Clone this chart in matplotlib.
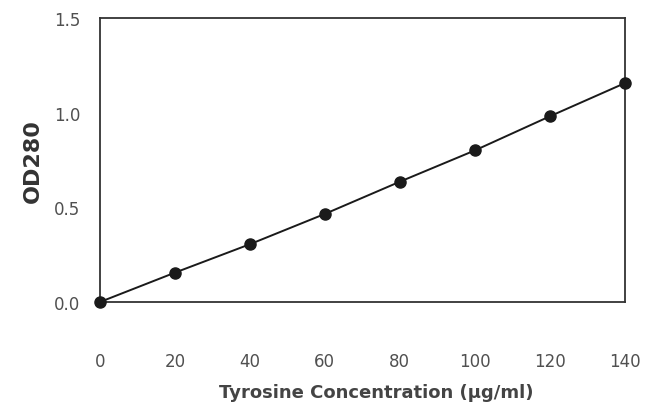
import matplotlib
matplotlib.use("Agg")
import matplotlib.pyplot as plt

# Tyrosine standard curve
conc = [0, 20, 40, 60, 80, 100, 120, 140]
od280 = [0.0, 0.155, 0.305, 0.465, 0.635, 0.80, 0.98, 1.155]
x_ticks = [0, 20, 40, 60, 80, 100, 120, 140]
y_ticks = [0.0, 0.5, 1.0, 1.5]

fig = plt.figure(figsize=(6.51, 4.10), dpi=100)
ax = fig.add_axes([0.1536, 0.261, 0.806, 0.693])

ax.plot(conc, od280, color="#1a1a1a", lw=1.4, marker="o", ms=8,
        mfc="#1a1a1a", mec="#1a1a1a", clip_on=False, zorder=3)

ax.set_xlim(0, 140)
ax.set_ylim(0, 1.5)
ax.set_xticks(x_ticks)
ax.set_xticklabels([str(v) for v in x_ticks])
ax.set_yticks(y_ticks)
ax.set_yticklabels([f"{v:.1f}" for v in y_ticks])
ax.tick_params(axis="both", length=0, labelsize=12, labelcolor="#505050")
ax.tick_params(axis="x", pad=36)
ax.tick_params(axis="y", pad=14)

for s in ax.spines.values():
    s.set_linewidth(1.3)
    s.set_color("#333333")

ax.set_xlabel("Tyrosine Concentration (\u03bcg/ml)", fontsize=13,
              fontweight="bold", color="#444444")
ax.xaxis.set_label_coords(0.526, -0.285)
ax.set_ylabel("OD280", fontsize=16, fontweight="bold", color="#333333",
              labelpad=8)

fig.savefig("out.png", dpi=100)
